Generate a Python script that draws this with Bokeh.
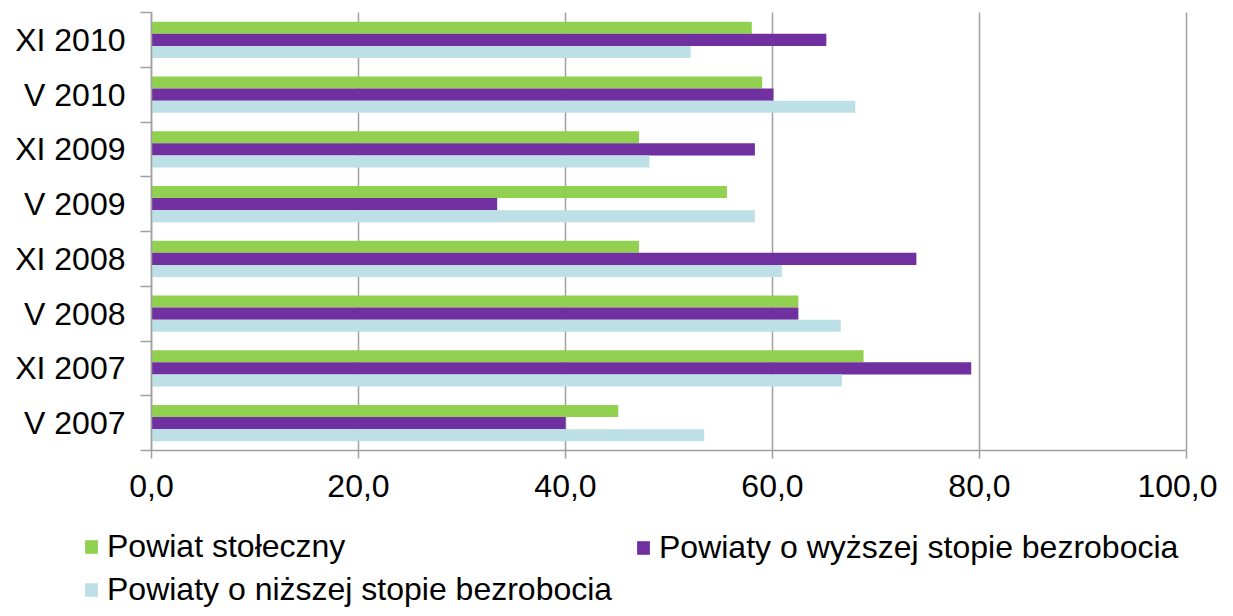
from bokeh.plotting import figure
from bokeh.models import (ColumnDataSource, Range1d, FixedTicker, Legend, LegendItem)
from bokeh.transform import dodge
from bokeh.embed import file_html
from bokeh.resources import INLINE

categories = ["V 2007", "XI 2007", "V 2008", "XI 2008", "V 2009", "XI 2009", "V 2010", "XI 2010"]
stoleczny = [45.1, 68.8, 62.5, 47.1, 55.6, 47.1, 59.0, 58.0]
wyzsza = [40.0, 79.2, 62.5, 73.9, 33.4, 58.3, 60.1, 65.2]
nizsza = [53.4, 66.7, 66.6, 60.9, 58.3, 48.1, 68.0, 52.1]
x_ticks = [0, 20, 40, 60, 80, 100]
x_labels = ["0,0", "20,0", "40,0", "60,0", "80,0", "100,0"]
series_names = ["Powiat stołeczny", "Powiaty o wyższej stopie bezrobocia", "Powiaty o niższej stopie bezrobocia"]

FONT = "Liberation Sans"
GREEN = "#92D050"
PURPLE = "#7030A0"
BLUE = "#BCE0E5"
GRID = "#A0A0A0"

W, H = 1217, 608
# pixel layout of the plotting region inside the canvas
X0_PX, X100_PX = 151, 1186
TOP_PX, BOT_PX = 12, 450
ncat = len(categories)
xs = (X100_PX - X0_PX) / 100.0
ys = (BOT_PX - TOP_PX) / ncat
x_range = Range1d(-X0_PX / xs, (W - X0_PX) / xs)
y_range = Range1d(-(H - BOT_PX) / ys, ncat + TOP_PX / ys)

centers = [i + 0.5 for i in range(ncat)]
src = ColumnDataSource(dict(y=centers, s=stoleczny, w=wyzsza, n=nizsza))

p = figure(width=W, height=H, output_backend="svg", toolbar_location=None,
           x_range=x_range, y_range=y_range,
           min_border_left=0, min_border_right=0, min_border_top=0, min_border_bottom=0)
p.outline_line_color = None
p.background_fill_color = "white"
p.border_fill_color = "white"
p.xgrid.visible = False
p.ygrid.visible = False

# vertical grid lines spanning the category area only
p.segment(x0=x_ticks, x1=x_ticks, y0=[0] * len(x_ticks), y1=[ncat] * len(x_ticks),
          line_color=GRID, line_width=1.5)

bh = 0.22
r1 = p.hbar(y=dodge("y", bh, range=p.y_range), right="s", left=0, height=bh, source=src,
            fill_color=GREEN, line_color=None)
r2 = p.hbar(y=dodge("y", 0, range=p.y_range), right="w", left=0, height=bh, source=src,
            fill_color=PURPLE, line_color=None)
r3 = p.hbar(y=dodge("y", -bh, range=p.y_range), right="n", left=0, height=bh, source=src,
            fill_color=BLUE, line_color=None)

# x axis
xa = p.xaxis[0]
xa.fixed_location = 0
xa.bounds = (0, 100)
xa.ticker = FixedTicker(ticks=x_ticks)
xa.major_label_overrides = {t: l for t, l in zip(x_ticks, x_labels)}
xa.major_label_text_font = FONT
xa.major_label_text_font_size = "32px"
xa.major_label_text_color = "black"
xa.axis_line_color = GRID
xa.axis_line_width = 1.5
xa.major_tick_line_color = GRID
xa.major_tick_line_width = 1.5
xa.major_tick_out = 8
xa.major_tick_in = 0
xa.minor_tick_line_color = None
xa.major_label_standoff = 16

# y axis
ya = p.yaxis[0]
ya.fixed_location = 0
ya.bounds = (0, ncat)
ya.ticker = FixedTicker(ticks=centers, minor_ticks=list(range(ncat + 1)))
ya.major_label_overrides = {c: l for c, l in zip(centers, categories)}
ya.major_label_text_font = FONT
ya.major_label_text_font_size = "32px"
ya.major_label_text_color = "black"
ya.axis_line_color = GRID
ya.axis_line_width = 1.5
ya.major_tick_line_color = None
ya.major_tick_out = 0
ya.major_tick_in = 0
ya.minor_tick_line_color = GRID
ya.minor_tick_line_width = 1.5
ya.minor_tick_out = 11
ya.minor_tick_in = 0
ya.major_label_standoff = 15

def make_legend(items, loc, spacing):
    return Legend(items=items, location=loc, orientation="vertical",
                  label_text_font=FONT, label_text_font_size="32px", label_text_color="black",
                  glyph_width=16, glyph_height=17, label_standoff=8, spacing=spacing,
                  padding=0, margin=0, border_line_color=None, background_fill_alpha=0)

leg_a = make_legend([LegendItem(label=series_names[0], renderers=[r1]),
                     LegendItem(label=series_names[2], renderers=[r3])], (83, 0), 6)
leg_b = make_legend([LegendItem(label=series_names[1], renderers=[r2])], (635, 42), 6)
p.add_layout(leg_a, "center")
p.add_layout(leg_b, "center")

open("out.html", "w").write(file_html(p, INLINE))
